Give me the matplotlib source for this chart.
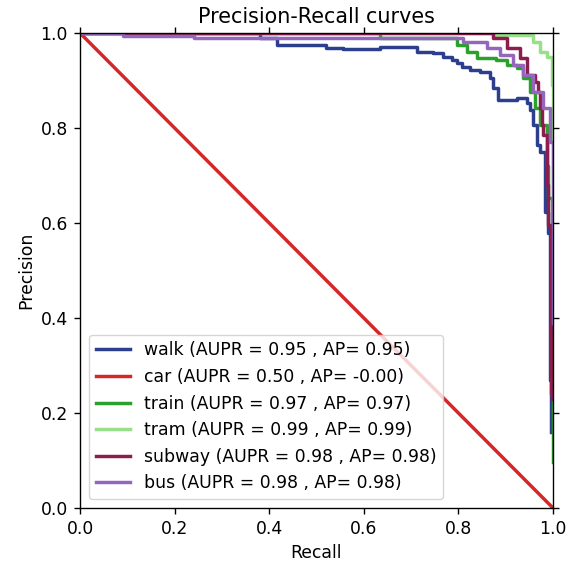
import matplotlib.pyplot as plt

labels = ["walk", "car", "train", "tram", "subway", "bus"]
aupr = [0.95, 0.50, 0.97, 0.99, 0.98, 0.98]
ap = [0.95, -0.00, 0.97, 0.99, 0.98, 0.98]
colors = ["#2c3e8e", "#d62728", "#2ca02c", "#98df8a", "#8c1d4e", "#9467bd"]

walk_r = [0.0, 0.38, 0.417, 0.52, 0.557, 0.634, 0.704, 0.712, 0.746, 0.768, 0.786, 0.797, 0.807,
          0.824, 0.846, 0.867, 0.874, 0.884, 0.924, 0.945, 0.951, 0.958, 0.966, 0.973, 0.983,
          0.99, 0.994, 0.996]
walk_p = [1.0, 0.989, 0.975, 0.968, 0.966, 0.971, 0.971, 0.961, 0.957, 0.95, 0.943, 0.937, 0.929,
          0.922, 0.918, 0.905, 0.884, 0.859, 0.863, 0.853, 0.838, 0.806, 0.764, 0.75, 0.623,
          0.58, 0.27, 0.16]

car_r = [0.0, 1.0]
car_p = [1.0, 0.0]

train_r = [0.0, 0.634, 0.797, 0.818, 0.839, 0.88, 0.903, 0.924, 0.937, 0.951, 0.962, 0.973,
           0.987, 0.99, 0.998, 0.999]
train_p = [1.0, 0.989, 0.975, 0.961, 0.947, 0.943, 0.933, 0.926, 0.905, 0.876, 0.842, 0.806,
           0.72, 0.653, 0.526, 0.097]

tram_r = [0.0, 0.874, 0.958, 0.973, 0.987, 0.998, 0.999, 1.0]
tram_p = [1.0, 0.996, 0.982, 0.961, 0.95, 0.89, 0.665, 0.5]

subway_r = [0.0, 0.874, 0.903, 0.93, 0.945, 0.962, 0.968, 0.973, 0.977, 0.979, 0.987, 0.99, 0.996,
            0.997]
subway_p = [1.0, 0.989, 0.968, 0.947, 0.912, 0.897, 0.876, 0.842, 0.806, 0.785, 0.68, 0.596, 0.24,
            0.23]

bus_r = [0.0, 0.09, 0.24, 0.81, 0.86, 0.888, 0.916, 0.937, 0.958, 0.979, 0.983, 0.994, 1.0]
bus_p = [1.0, 0.993, 0.989, 0.982, 0.968, 0.954, 0.933, 0.912, 0.876, 0.842, 0.842, 0.77, 0.39]

curves = [(walk_r, walk_p), (car_r, car_p), (train_r, train_p),
          (tram_r, tram_p), (subway_r, subway_p), (bus_r, bus_p)]

s = 1.24
plt.rcParams["font.size"] = 10 * s
plt.rcParams["axes.linewidth"] = 0.8 * s
plt.rcParams["xtick.major.size"] = 3.5 * s
plt.rcParams["ytick.major.size"] = 3.5 * s
plt.rcParams["xtick.major.width"] = 0.8 * s
plt.rcParams["ytick.major.width"] = 0.8 * s
plt.rcParams["xtick.major.pad"] = 3.5 * s
plt.rcParams["ytick.major.pad"] = 3.5 * s

fig = plt.figure(figsize=(5.8, 5.61), dpi=100)
ax = fig.add_axes([80 / 580, 53 / 561, 473 / 580, 475 / 561])

for i, (r, p) in enumerate(curves):
    lab = f"{labels[i]} (AUPR = {aupr[i]:.2f} , AP= {ap[i]:.2f})"
    if labels[i] == "car":
        ax.plot(r, p, color=colors[i], lw=2 * s, label=lab)
    else:
        ax.plot(r, p, color=colors[i], lw=2 * s, drawstyle="steps-post", label=lab)

ax.set_xlim(0, 1)
ax.set_ylim(0, 1)
ax.set_xlabel("Recall")
ax.set_ylabel("Precision")
ax.set_title("Precision-Recall curves", pad=6 * s)
ax.tick_params(top=True, right=True)
ax.legend(loc="lower left")

fig.savefig("out.png", dpi=100)
